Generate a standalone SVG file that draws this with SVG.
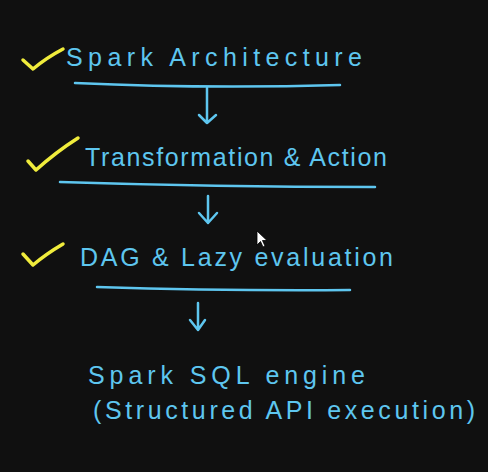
<svg xmlns="http://www.w3.org/2000/svg" width="488" height="472" viewBox="0 0 488 472">
<style>
.t{font-family:"Liberation Sans",Arial,sans-serif;fill:#5ec6ef;font-size:25px}
.u{fill:none;stroke:#5ec6ef;stroke-width:2.5;stroke-linecap:round;stroke-linejoin:round}
.c{fill:none;stroke:#f0ec3c;stroke-width:3.5;stroke-linecap:round;stroke-linejoin:round}
</style>
<rect width="488" height="472" fill="#101010"/>
<g id="node-spark-architecture">
<path class="c" d="M23,60 L33,69 Q46,58 63,49"/>
<text class="t" x="66" y="66" textLength="296" lengthAdjust="spacing">Spark Architecture</text>
<path class="u" d="M75,83 Q205,89 340,85"/>
</g>
<g id="node-transformation-action">
<path class="c" d="M28,161 L36,170 Q56,152 78,138"/>
<text class="t" x="85" y="166" textLength="302" lengthAdjust="spacing">Transformation &amp; Action</text>
<path class="u" d="M60,182 Q215,187 375,187"/>
</g>
<g id="node-dag-lazy">
<path class="c" d="M23,254 L33,265 Q46,254 63,244"/>
<text class="t" x="80" y="266" textLength="313" lengthAdjust="spacing">DAG &amp; Lazy evaluation</text>
<path class="u" d="M97,287 Q225,291 350,290"/>
</g>
<g id="node-spark-sql">
<text class="t" x="88" y="384" textLength="277" lengthAdjust="spacing">Spark SQL engine</text>
<text class="t" x="93" y="419" textLength="382" lengthAdjust="spacing">(Structured API execution)</text>
</g>
<g id="connectors">
<path class="u" d="M207,88 L207,123 M199,115 L207,123 L216,115"/>
<path class="u" d="M208,196 L208,223 M199,213 L208,223 L217,213"/>
<path class="u" d="M198,303 L198,330 M190,320 L198,330 L205,320"/>
</g>
<g id="cursor">
<path d="M257,231 L257,245 L260.5,241.5 L263,247 L265,246 L262.5,240.5 L267,240.5 Z" fill="#ffffff" stroke="#000" stroke-width="0.8"/>
</g>
</svg>
